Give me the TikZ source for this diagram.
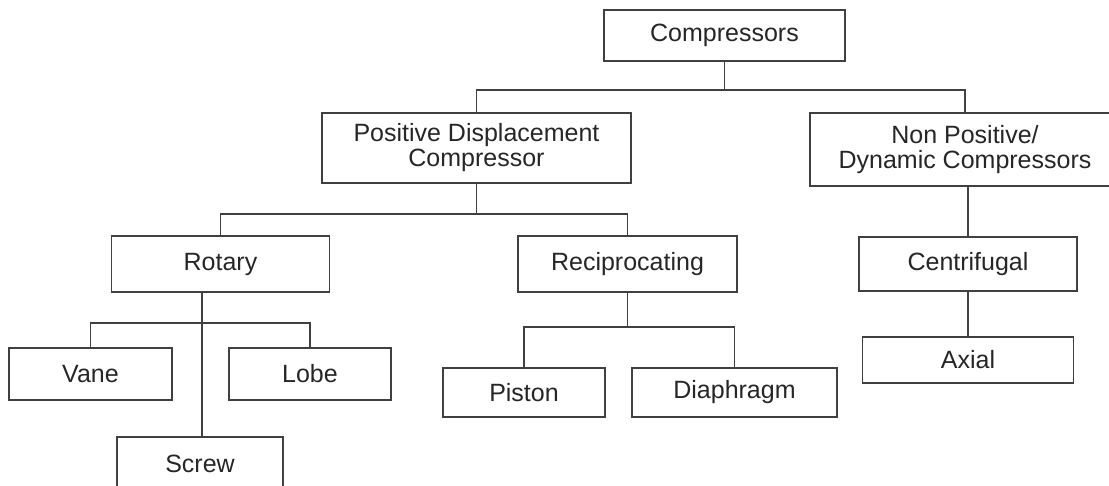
\documentclass[tikz,border=0pt]{standalone}
\usepackage{fontspec}
\setmainfont{Liberation Sans}

\begin{document}
\begin{tikzpicture}[
  x=0.5pt,y=-0.5pt,
  box/.style={draw=black!75,line width=0.9pt,inner sep=0pt,align=center,font=\fontsize{12.5}{12.5}\selectfont,text=black!85},
  sz/.style 2 args={minimum width=0.5*#1pt,minimum height=0.5*#2pt},
  link/.style={draw=black!75,line width=0.9pt}
]
\useasboundingbox (0,0) rectangle (1109,486);
\clip (0,0) rectangle (1109,486);

\node[box,sz={241}{51}] (comp)  at (724.5,35.5) {Compressors};
\node[box,sz={309}{70}] (pdc)   at (476.5,148)  {Positive Displacement\\Compressor};
\node[box,sz={310}{73}] (npd)   at (965,149.5)  {Non Positive/\\Dynamic Compressors};
\node[box,sz={218}{56}] (rot)   at (220.5,264)  {Rotary};
\node[box,sz={219}{56}] (rec)   at (627.5,264)  {Reciprocating};
\node[box,sz={218}{54}] (cen)   at (968,264)    {Centrifugal};
\node[box,sz={163}{52}] (vane)  at (90.5,374)   {Vane};
\node[box,sz={162}{52}] (lobe)  at (310,374)    {Lobe};
\node[box,sz={166}{54}] (screw) at (200,464)    {Screw};
\node[box,sz={162}{49}] (pist)  at (524,392.5)  {Piston};
\node[box,sz={205}{49}] (dia)   at (734.5,392.5) {Diaphragm};
\node[box,sz={211}{46}] (axial) at (968,360)    {Axial};

% main split
\draw[link] (comp.south) -- ++(0,28) coordinate (j0);
\draw[link] (pdc.north) |- (j0) -| (npd.north);

% positive displacement
\draw[link] (pdc.south) -- ++(0,30) coordinate (j1);
\draw[link] (rot.north) |- (j1) -| (rec.north);

% rotary (screw line runs off centre)
\coordinate (rs) at ([xshift=-9.25pt]rot.south);
\draw[link] (rs) -- (rs |- screw.north);
\draw[link] (rs) -- ++(0,30) coordinate (j2);
\draw[link] (vane.north) |- (j2) -| (lobe.north);

% reciprocating
\draw[link] (rec.south) -- ++(0,34) coordinate (j3);
\draw[link] (pist.north) |- (j3) -| (dia.north);

% dynamic
\draw[link] (npd.south -| cen.north) -- (cen.north);
\draw[link] (cen.south) -- (axial.north);
\end{tikzpicture}
\end{document}
